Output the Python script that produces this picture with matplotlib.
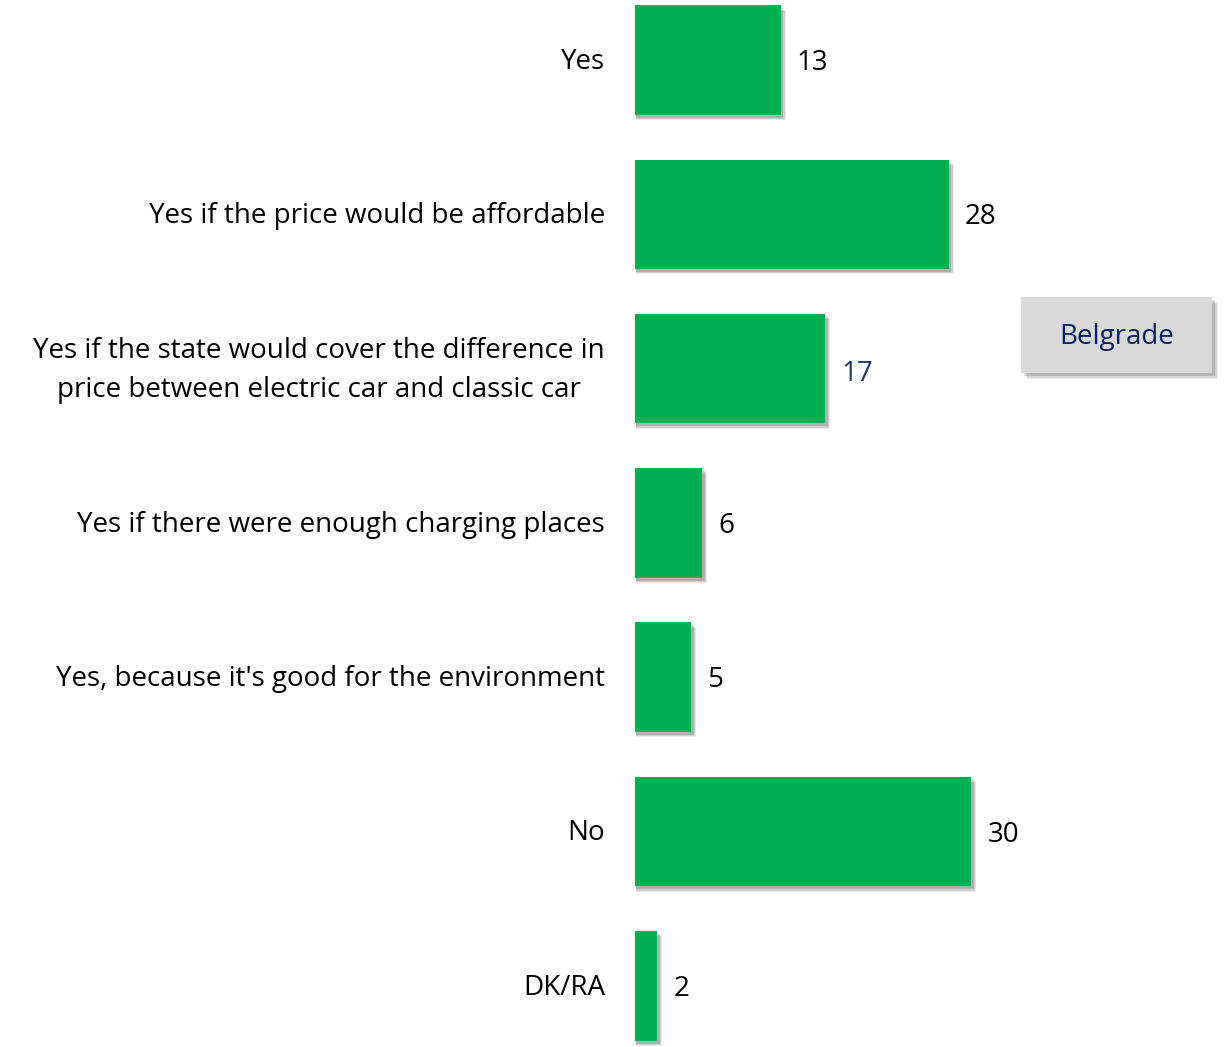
import matplotlib.pyplot as plt
import matplotlib.transforms as mtransforms
from matplotlib.patches import Rectangle

# Data
categories = [
    "Yes",
    "Yes if the price would be affordable",
    "Yes if the state would cover the difference in\nprice between electric car and classic car",
    "Yes if there were enough charging places",
    "Yes, because it's good for the environment",
    "No",
    "DK/RA",
]
values = [13, 28, 17, 6, 5, 30, 2]
label_colors = ["black", "black", "#1F3864", "black", "black", "black", "black"]
legend_label = "Belgrade"

BAR_COLOR = "#00B050"
FONT = ["Open Sans", "DejaVu Sans"]
FS = 20

W, H, DPI = 1231, 1047, 100
fig = plt.figure(figsize=(W / DPI, H / DPI), dpi=DPI)
ax = fig.add_axes([635 / W, 0, 1 - 635 / W, 1])

# shadow first, a few layers to fake blur
ypos = list(range(len(values)))
bar_h = 0.71
for dx, dy, a in [(0.45, 0.035, 0.08), (0.35, 0.028, 0.12), (0.25, 0.02, 0.15)]:
    ax.barh([y + dy for y in ypos], [v + dx - 0.1 for v in values], height=bar_h,
            left=0.1, color="black", alpha=a, zorder=1)
ax.barh(ypos, values, height=bar_h, color=BAR_COLOR, zorder=2)

ax.set_xlim(0, 53.2)
ax.set_ylim(6.397, -0.389)
ax.axis("off")

# value labels
for y, v, c in zip(ypos, values, label_colors):
    ax.text(v + 1.45, y + (0.035 if c != "black" else 0.02), str(v), va="center", ha="left",
            fontsize=FS, color=c, family=FONT)

# category labels, right aligned 30 px left of the bars
off = mtransforms.offset_copy(ax.transData, fig=fig, x=-30, y=-2, units="dots")
for y, cat in zip(ypos, categories):
    ax.text(0, y, cat, transform=off, ha="right", va="center", multialignment="center",
            fontsize=FS, color="black", family=FONT, linespacing=1.5)

# legend box with shadow
lx0, ly0, lw, lh = 1021 / W, 1 - 373 / H, 191 / W, 76 / H
for d, a in [(6, 0.07), (4.5, 0.1), (3, 0.15)]:
    fig.patches.append(Rectangle((lx0 + d / W, ly0 - d / H), lw, lh, transform=fig.transFigure,
                                 facecolor="black", alpha=a, edgecolor="none", zorder=3))
fig.patches.append(Rectangle((lx0, ly0), lw, lh, transform=fig.transFigure,
                             facecolor="#D9D9D9", edgecolor="none", zorder=4))
fig.text(lx0 + lw / 2, ly0 + lh / 2 - 0.002, legend_label, ha="center", va="center",
         fontsize=FS, color="#002060", family=FONT, zorder=5)

fig.savefig("out.png", dpi=DPI)
